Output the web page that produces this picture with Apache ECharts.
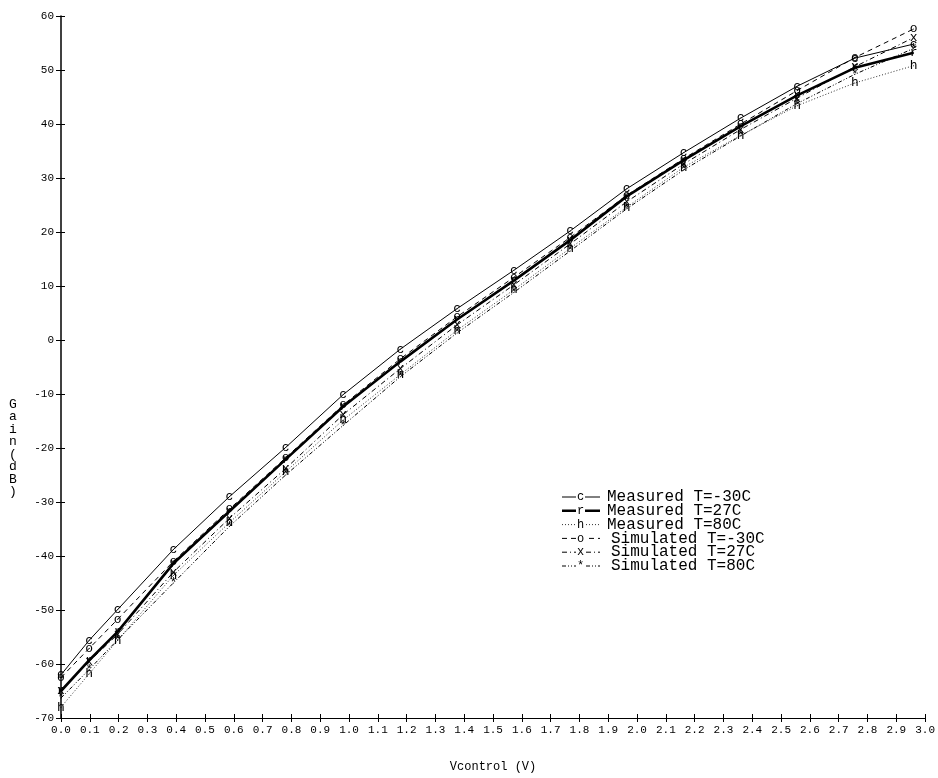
<!DOCTYPE html>
<html>
<head>
<meta charset="utf-8">
<script src="https://cdn.jsdelivr.net/npm/echarts@6/dist/echarts.min.js"></script>
<style>
html,body{margin:0;padding:0;background:#fff;}
#c{width:938px;height:778px;}
</style>
</head>
<body>
<div id="c"></div>
<script>
// Control voltage (V) at which points were plotted
const vcontrol = [0, 0.098, 0.197, 0.39, 0.585, 0.78, 0.98, 1.178, 1.375, 1.572, 1.768, 1.964, 2.162, 2.36, 2.556, 2.756, 2.96];
// Gain (dB)
const measuredM30 = [-62, -55.6, -49.9, -38.8, -29.0, -19.9, -10.1, -1.7, 5.8, 12.9, 20.2, 28.0, 34.7, 41.1, 47.0, 52.2, 54.8];
const measured27  = [-65, -59.3, -54.0, -41.4, -31.7, -22.1, -12.3, -4.0, 3.8, 11.0, 18.5, 26.6, 33.3, 39.6, 45.3, 50.4, 53.2];
const measured80  = [-68, -61.8, -55.6, -43.6, -33.8, -24.4, -14.8, -6.4, 1.8, 9.3, 17.0, 24.6, 32.0, 37.9, 43.4, 47.6, 50.8];
const simulatedM30 = [-62.5, -57.1, -51.7, -41.0, -31.3, -21.8, -12.0, -3.5, 4.3, 11.6, 19.0, 26.8, 33.6, 40.0, 46.2, 52.3, 57.6];
const simulated27  = [-65, -59.5, -54.5, -43.0, -33.0, -23.8, -13.8, -5.3, 2.8, 10.2, 17.8, 25.6, 32.6, 39.0, 44.8, 50.6, 56.0];
const simulated80  = [-66.3, -61.0, -55.5, -45.0, -34.5, -25.0, -15.8, -6.8, 1.3, 8.8, 16.5, 24.3, 31.5, 37.8, 43.8, 49.2, 54.0];

const seriesNames = ['Measured T=-30C','Measured T=27C','Measured T=80C','Simulated T=-30C','Simulated T=27C','Simulated T=80C'];
const markerChars = ['c','r','h','o','x','*'];
const seriesData = [measuredM30, measured27, measured80, simulatedM30, simulated27, simulated80];
const lineStyles = [
  {width:1, type:'solid', color:'#000'},
  {width:2.6, type:'solid', color:'#000'},
  {width:1, type:[1,2], color:'#333'},
  {width:1, type:[5,4], color:'#000'},
  {width:1, type:[5,3,1,3], color:'#000'},
  {width:1, type:[4,2,1,2,1,2], color:'#000'}
];

const FONT = 'Liberation Mono';
const chart = echarts.init(document.getElementById('c'), null, {renderer:'canvas'});

const series = seriesData.map((d, i) => ({
  name: seriesNames[i],
  type: 'line',
  data: vcontrol.map((v, k) => [v, d[k]]),
  symbol: 'circle',
  symbolSize: 1,
  itemStyle: {color:'#000'},
  lineStyle: lineStyles[i],
  label: {show:true, position:'inside', formatter: markerChars[i], fontFamily: FONT, fontSize: 13, color:'#000'},
  silent: true,
  z: 3
}));

const baseX = {type:'value', min:0, max:3.0, interval:0.1};
const baseY = {type:'value', min:-70, max:60, interval:10};

// legend drawn as graphic
const legendItems = [];
const lx0 = 562, lx1 = 600, ly0 = 497, ldy = 13.8;
for (let i = 0; i < seriesNames.length; i++) {
  const y = ly0 + i*ldy;
  legendItems.push({type:'line', shape:{x1:lx0, y1:y, x2:lx1, y2:y}, style:{stroke:lineStyles[i].color, lineWidth:lineStyles[i].width, lineDash: Array.isArray(lineStyles[i].type)? lineStyles[i].type : null}});
  legendItems.push({type:'rect', shape:{x:576, y:y-5, width:9, height:10}, style:{fill:'#fff'}});
  legendItems.push({type:'text', x:580.5, y:y, style:{text:markerChars[i], font:'12px '+FONT, fill:'#000', align:'center', verticalAlign:'middle'}});
  legendItems.push({type:'text', x: i < 3 ? 607 : 611, y:y, style:{text:seriesNames[i], font:'16px '+FONT, fill:'#000', align:'left', verticalAlign:'middle'}});
}

chart.setOption({
  animation:false,
  backgroundColor:'#fff',
  grid:{left:61, right:12, top:16, bottom:49, containLabel:false},
  xAxis:[
    Object.assign({}, baseX, {
      name:'Vcontrol (V)', nameLocation:'middle', nameGap:43,
      nameTextStyle:{fontFamily:FONT, fontSize:12, color:'#000'},
      axisLine:{show:true, onZero:false, lineStyle:{color:'#000', width:1}},
      axisTick:{show:true, length:4, lineStyle:{color:'#000'}},
      axisLabel:{fontFamily:FONT, fontSize:11, color:'#000', margin:7, formatter: v => v.toFixed(1)},
      splitLine:{show:false}
    }),
    Object.assign({}, baseX, {
      position:'bottom', axisLine:{show:false, onZero:false},
      axisTick:{show:true, inside:true, length:4, lineStyle:{color:'#000'}},
      axisLabel:{show:false}, splitLine:{show:false}
    })
  ],
  yAxis:[
    Object.assign({}, baseY, {
      axisLine:{show:true, onZero:false, lineStyle:{color:'#000', width:1.5}},
      axisTick:{show:true, length:5, lineStyle:{color:'#000'}},
      axisLabel:{fontFamily:FONT, fontSize:11, color:'#000', margin:7},
      splitLine:{show:false}
    }),
    Object.assign({}, baseY, {
      position:'left', axisLine:{show:false, onZero:false},
      axisTick:{show:true, inside:true, length:4, lineStyle:{color:'#000'}},
      axisLabel:{show:false}, splitLine:{show:false}
    })
  ],
  series: series,
  graphic:[
    {type:'text', x:13, y:448, style:{text:'G\na\ni\nn\n(\nd\nB\n)', font:'13px '+FONT, lineHeight:12.5, fill:'#000', align:'center', verticalAlign:'middle'}},
    {type:'group', children: legendItems}
  ]
});
</script>
</body>
</html>
